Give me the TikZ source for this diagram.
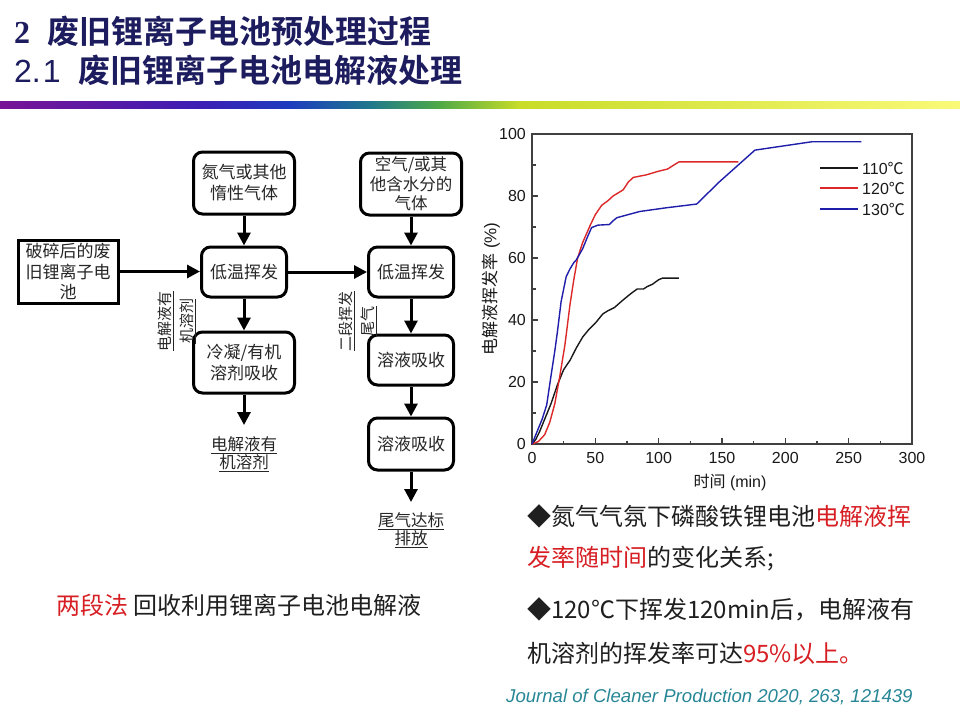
\documentclass[tikz,border=0pt]{standalone}
\usepackage{fontspec}
\setmainfont{Liberation Sans}
\newfontfamily\cjk{Noto Sans CJK SC}
\newfontfamily\cjkb{Noto Sans CJK SC Bold}
\newfontfamily\serifb{Liberation Serif}
\usetikzlibrary{arrows.meta}
\definecolor{titlec}{RGB}{28,28,95}
\definecolor{myred}{RGB}{215,30,35}
\definecolor{cred}{RGB}{220,40,40}
\definecolor{cblue}{RGB}{30,30,170}
\definecolor{citec}{RGB}{40,135,150}
\definecolor{g0}{RGB}{120,20,150}
\definecolor{g1}{RGB}{60,30,180}
\definecolor{g2}{RGB}{30,60,190}
\definecolor{g3}{RGB}{30,120,140}
\definecolor{g4}{RGB}{80,170,70}
\definecolor{g5}{RGB}{200,220,40}
\definecolor{g6}{RGB}{250,250,120}
\tikzset{
  rbox/.style={draw=black, line width=3pt, rounded corners=9pt, align=center, inner sep=0pt,
    text=black!85, font=\cjk\fontsize{17}{21}\selectfont},
  sbox/.style={draw=black, line width=3pt, align=center, inner sep=0pt,
    text=black!85, font=\cjk\fontsize{17}{20.5}\selectfont},
  arr/.style={line width=3pt, -{Triangle[length=13pt,width=13pt]}},
  outtxt/.style={align=center, inner sep=0pt, text=black!85, font=\cjk\fontsize{16.5}{18.5}\selectfont},
  vlab/.style={rotate=90, align=center, inner sep=0pt, text=black!85, font=\cjk\fontsize{15}{22}\selectfont},
  axisline/.style={line width=1.3pt, draw=black!75},
  tickl/.style={line width=1.2pt, draw=black!75},
  ticklab/.style={inner sep=0pt, text=black!90, font=\fontsize{16}{18}\selectfont},
  curve/.style={line width=1.4pt, line join=round},
  btxt/.style={anchor=west, inner sep=0pt, text=black!88, font=\cjk\fontsize{24}{26}\selectfont}
}
\begin{document}
\begin{tikzpicture}[x=1pt,y=-1pt]
\useasboundingbox (0,0) rectangle (960,720);
\fill[white] (0,0) rectangle (960,720);

% titles
\node[anchor=west, inner sep=0pt, text=titlec] (t1) at (14,31)
  {\fontsize{32}{34}\selectfont{\serifb\bfseries 2}\hspace{17pt}{\cjkb 废旧锂离子电池预处理过程}};
\node[anchor=west, inner sep=0pt, text=titlec] (t2) at (14,70)
  {\fontsize{32}{34}\selectfont 2.\hspace{2pt}1\hspace{18pt}{\cjkb 废旧锂离子电池电解液处理}};

% gradient bar
\shade[left color=g0, right color=g1] (0,101) rectangle (200,108);
\shade[left color=g1, right color=g2] (199.5,101) rectangle (290,108);
\shade[left color=g2, right color=g3] (289.5,101) rectangle (370,108);
\shade[left color=g3, right color=g4] (369.5,101) rectangle (440,108);
\shade[left color=g4, right color=g5] (439.5,101) rectangle (520,108);
\shade[left color=g5, right color=g6] (519.5,101) rectangle (960,108);

% flowchart
\node[sbox, minimum width=100pt, minimum height=63pt] (b1) at (68,271.5) {破碎后的废\\旧锂离子电\\池};
\node[rbox, minimum width=101pt, minimum height=62pt] (n2) at (244,183) {氮气或其他\\惰性气体};
\node[rbox, minimum width=85pt, minimum height=50pt] (lt1) at (244,272) {低温挥发};
\node[rbox, minimum width=101pt, minimum height=61pt] (cond) at (244,362.5) {冷凝/有机\\溶剂吸收};
\node[outtxt] (o1) at (244,454) {\underline{电解液有}\\\underline{机溶剂}};
\node[rbox, minimum width=101pt, minimum height=62pt, font=\cjk\fontsize{16.5}{19.5}\selectfont] (n3) at (411,184) {空气/或其\\他含水分的\\气体};
\node[rbox, minimum width=85pt, minimum height=50pt] (lt2) at (411,272) {低温挥发};
\node[rbox, minimum width=85pt, minimum height=50pt] (ab1) at (411,360) {溶液吸收};
\node[rbox, minimum width=85pt, minimum height=52pt] (ab2) at (411,444) {溶液吸收};
\node[outtxt] (o2) at (411,530) {\underline{尾气达标}\\\underline{排放}};
\node[vlab] (v1) at (177,321) {\underline{电解液有}\\\underline{机溶剂}};
\node[vlab] (v2) at (358,321) {\underline{二段挥发}\\\underline{尾气}};
\coordinate (e1) at (244,425);
\coordinate (e2) at (411,502);

\draw[arr] (b1.east) -- (b1.east -| lt1.west);
\draw[arr] (n2.south) -- (lt1.north);
\draw[arr] (lt1.east) -- (lt2.west);
\draw[arr] (lt1.south) -- (cond.north);
\draw[arr] (cond.south) -- (e1);
\draw[arr] (n3.south) -- (lt2.north);
\draw[arr] (lt2.south) -- (ab1.north);
\draw[arr] (ab1.south) -- (ab2.north);
\draw[arr] (ab2.south) -- (e2);

% chart
\begin{scope}[shift={(532,444)}, x=1.266667pt, y=3.1pt]
\draw[axisline] (0,0) rectangle (300,100);
\foreach \t in {0,50,...,300} {
  \draw[tickl] (\t,0) -- ++(0pt,6pt);
  \node[ticklab] (xl\t) at ([yshift=-14pt]\t,0) {\t};
}
\foreach \t in {25,75,...,275} { \draw[tickl] (\t,0) -- ++(0pt,3.5pt); }
\foreach \v in {0,20,...,100} {
  \draw[tickl] (0,\v) -- ++(6pt,0pt);
  \node[ticklab, anchor=east] (yl\v) at ([xshift=-6pt]0,\v) {\v};
}
\foreach \v in {10,30,...,90} { \draw[tickl] (0,\v) -- ++(3.5pt,0pt); }

\draw[curve, black!90] plot coordinates {(0,0) (3,1.5) (6,4) (10,8) (15,13) (20,19) (25,24) (30,27) (35,31) (40,34.5) (45,37) (50,39) (56,42) (60,43) (65,44) (72,46.5) (78,48.5) (83,50) (88,50) (91,50.8) (95,51.5) (100,53) (103,53.5) (116,53.5)};
\draw[curve, cred] plot coordinates {(0,0) (5,0.8) (10,3) (14,7) (18,13) (22,22) (26,32) (30,45) (33,53) (36,60) (40,65) (46,70.6) (50,74) (55,77) (60,78.5) (64,80) (68,81) (72,82) (76,84.5) (80,86) (90,86.8) (100,88) (107,88.7) (112,90) (116,91) (163,91)};
\draw[curve, cblue] plot coordinates {(0,0) (4,4) (8,8) (11.6,12.6) (15,22) (18,30) (20,36) (23,46) (25,50) (27,54) (30,56.5) (33,58.5) (35,59.4) (40,63) (44,67) (47,69.8) (52,70.6) (61,70.8) (64,72) (67,73) (85,75) (106,76.2) (130,77.4) (148,84.6) (176,94.8) (221,97.5) (260,97.5)};
\end{scope}

% legend
\coordinate (la1) at (820,168); \coordinate (lb1) at (858,168);
\coordinate (la2) at (820,188); \coordinate (lb2) at (858,188);
\coordinate (la3) at (820,209); \coordinate (lb3) at (858,209);
\draw[curve, black!90] (la1) -- (lb1);
\draw[curve, cred] (la2) -- (lb2);
\draw[curve, cblue] (la3) -- (lb3);
\node[ticklab, anchor=west] (lg1) at (862,168) {110{\cjk ℃}};
\node[ticklab, anchor=west] (lg2) at (862,188) {120{\cjk ℃}};
\node[ticklab, anchor=west] (lg3) at (862,209) {130{\cjk ℃}};

% axis titles
\node[ticklab] (xt) at (730,482) {{\cjk 时间} (min)};
\node[ticklab, rotate=90, font=\fontsize{17}{19}\selectfont] (yt) at (491,289) {{\cjk 电解液挥发率} (\%)};

% bottom right text
\node[btxt] (l1) at (527,516) {◆氮气气氛下磷酸铁锂电池\textcolor{myred}{电解液挥}};
\node[btxt] (l2) at (527,559) {\textcolor{myred}{发率随时间}的变化关系;};
\node[btxt] (l3) at (527,609) {◆120℃下挥发120min后，电解液有};
\node[btxt] (l4) at (527,653) {机溶剂的挥发率可达\textcolor{myred}{95\%以上。}};
\node[anchor=west, inner sep=0pt, text=citec, font=\itshape\fontsize{18.6}{20}\selectfont] (cite) at (506,697)
  {Journal of Cleaner Production 2020, 263, 121439};

% bottom left text
\node[btxt] (bl) at (56,605) {\textcolor{myred}{两段法} 回收利用锂离子电池电解液};
\end{tikzpicture}
\end{document}
